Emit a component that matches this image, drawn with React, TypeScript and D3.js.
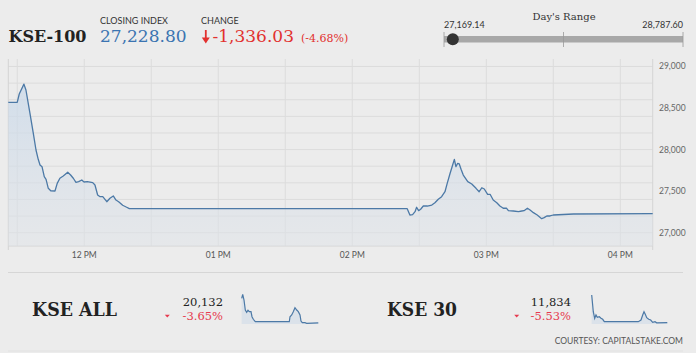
import React from "react";
import * as d3 from "d3";

// KSE-100 intraday (time, index)
const kseTimes = [
  "11:26:00", "11:30:00", "11:30:54", "11:33:00", "11:33:54", "11:35:42", "11:37:12", "11:38:24",
  "11:39:24", "11:40:12", "11:41:06", "11:42:06", "11:42:54", "11:43:54", "11:45:00", "11:46:54",
  "11:47:54", "11:49:06", "11:50:36", "11:52:36", "11:53:54", "11:55:06", "11:56:18", "11:57:30",
  "11:58:54", "11:59:54", "12:01:24", "12:03:48", "12:04:48", "12:06:00", "12:07:06", "12:08:18",
  "12:10:06", "12:11:30", "12:13:00", "12:14:12", "12:15:24", "12:17:12", "12:19:00", "12:20:12",
  "14:24:36", "14:25:48", "14:27:00", "14:28:06", "14:28:48", "14:29:42", "14:30:36", "14:31:48",
  "14:33:36", "14:35:36", "14:37:00", "14:38:30", "14:40:00", "14:41:30", "14:42:30", "14:43:48",
  "14:44:48", "14:45:42", "14:46:24", "14:47:12", "14:47:54", "14:48:42", "14:49:42", "14:51:42",
  "14:53:30", "14:55:24", "14:56:48", "14:58:00", "14:59:06", "15:00:36", "15:01:42", "15:03:06",
  "15:04:42", "15:06:06", "15:07:36", "15:09:06", "15:09:54", "15:12:06", "15:14:24", "15:15:54",
  "15:16:54", "15:18:24", "15:19:36", "15:21:06", "15:22:48", "15:24:48", "15:25:54", "15:27:06",
  "15:28:30", "15:30:00", "15:39:00", "16:14:30",
];
const kseValues = [
  28569, 28569, 28669, 28787.6, 28717, 28437, 28196, 27995,
  27883, 27815, 27794, 27674, 27642, 27534, 27505, 27502,
  27594, 27655, 27682, 27727, 27694, 27655, 27606, 27614,
  27634, 27610, 27614, 27602, 27574, 27454, 27433, 27433,
  27373, 27414, 27442, 27393, 27373, 27330, 27306, 27289,
  27289, 27213, 27217, 27253, 27306, 27265, 27282, 27321,
  27321, 27333, 27361, 27402, 27433, 27493, 27594, 27715,
  27803, 27883, 27794, 27835, 27827, 27763, 27694, 27614,
  27586, 27534, 27493, 27541, 27526, 27462, 27462, 27393,
  27361, 27321, 27294, 27294, 27265, 27261, 27253, 27261,
  27265, 27294, 27273, 27241, 27213, 27169.14, 27181, 27201,
  27201, 27213, 27225, 27228.8,
];

// KSE ALL sparkline
const allTimes = [
  "11:26:00", "11:29:48", "11:34:42", "11:39:36", "11:44:48", "11:49:42", "11:54:36", "12:01:00",
  "12:04:48", "12:09:42", "12:17:12", "14:25:18", "14:27:54", "14:34:18", "14:40:18", "14:46:42",
  "14:53:12", "14:59:12", "15:05:36", "15:09:18", "15:14:12", "15:24:24", "15:30:48", "16:14:30",
];
const allValues = [
  20820, 20932, 20772, 20492, 20428, 20484, 20444, 20444,
  20304, 20232, 20164, 20164, 20304, 20352, 20444, 20556,
  20492, 20444, 20352, 20184, 20136, 20136, 20120, 20132,
];

// KSE 30 sparkline
const k30Times = [
  "11:26:00", "11:32:06", "11:37:24", "11:42:24", "11:47:24", "11:55:00", "12:01:30", "12:08:00",
  "12:14:06", "14:23:48", "14:34:06", "14:40:36", "14:45:36", "14:50:30", "14:55:54", "15:03:30",
  "15:11:06", "15:18:48", "15:27:36", "15:34:00", "16:14:30",
];
const k30Values = [
  12554, 12120, 11948, 12034, 11974, 11990, 11948, 11922,
  11860, 11860, 11904, 12034, 12120, 12052, 11964, 11922,
  11904, 11844, 11860, 11830, 11834,
];

const gridValues = d3.range(27000, 29001, 200);
const yTickValues = [27000, 27500, 28000, 28500, 29000];

const closingIndex = 27228.8;
const changeValue = -1336.03;
const changePct = -4.68;
const dayLow = 27169.14;
const dayHigh = 28787.6;

const allClose = 20132;
const allPct = -3.65;
const k30Close = 11834;
const k30Pct = -5.53;

const parseTime = d3.timeParse("%H:%M:%S");
const fmt2 = (v: number) => d3.format(",.2f")(v).replace("\u2212", "-");
const fmt0 = d3.format(",.0f");
const serif = "'DejaVu Serif', serif";
const sans = "Lato, 'Noto Sans', sans-serif";
const lineColor = "#4c79a6";
const red = "#e2312f";
const pink = "#e63a4f";

type Pt = { t: Date; v: number };
const toPts = (ts: string[], vs: number[]): Pt[] =>
  ts.map((s, i) => ({ t: parseTime(s) as Date, v: vs[i] }));

function Spark({ pts, x0, x1, domain }: { pts: Pt[]; x0: number; x1: number; domain: [number, number] }) {
  const x = d3.scaleTime().domain(d3.extent(pts, (d) => d.t) as [Date, Date]).range([x0, x1]);
  const y = d3.scaleLinear().domain(domain).range([324, 294]);
  const line = d3.line<Pt>().x((d) => x(d.t)).y((d) => y(d.v));
  const area = d3.area<Pt>().x((d) => x(d.t)).y0(324).y1((d) => y(d.v));
  return (
    <g>
      <path d={area(pts) || ""} fill="#d7e0ea" opacity={0.8} />
      <path d={line(pts) || ""} fill="none" stroke={lineColor} strokeWidth={1.2} />
    </g>
  );
}

export default function App() {
  const W = 696;
  const H = 353;
  const pts = toPts(kseTimes, kseValues);
  const x = d3
    .scaleTime()
    .domain(d3.extent(pts, (d) => d.t) as [Date, Date])
    .range([8.3, 652.7]);
  const y = d3.scaleLinear().domain([26840, 29090]).range([246, 59]);
  const [t0, t1] = x.domain();
  const vGrid = d3.timeMinute.every(30)!.range(t0, t1);
  const xTicks = d3.timeHour.range(t0, t1);
  const line = d3.line<Pt>().x((d) => x(d.t)).y((d) => y(d.v));
  const area = d3.area<Pt>().x((d) => x(d.t)).y0(246).y1((d) => y(d.v));

  const range = d3.scaleLinear().domain([dayLow, dayHigh]).range([444, 683]);

  return (
    <svg width={W} height={H} style={{ position: "absolute", left: 0, top: 0 }}>
      <defs>
        <linearGradient id="fillGrad" x1="0" y1="0" x2="0" y2="1">
          <stop offset="0%" stopColor="#c9d9ea" stopOpacity={0.75} />
          <stop offset="100%" stopColor="#dfe3e8" stopOpacity={0.5} />
        </linearGradient>
      </defs>
      <rect width={W} height={H} fill="#ececec" />

      {/* header */}
      <text x={8.5} y={42.3} fontFamily={serif} fontWeight="bold" fontSize={16} fill="#222">KSE-100</text>
      <text x={100} y={24} fontFamily={sans} fontSize={9} fill="#333">CLOSING INDEX</text>
      <text x={100} y={42.3} fontFamily={serif} fontSize={17} fill="#3b74b1">{fmt2(closingIndex)}</text>
      <text x={201} y={24} fontFamily={sans} fontSize={9} fill="#333">CHANGE</text>
      <path d="M205.8,30 V40" stroke={red} strokeWidth={1.8} />
      <path d="M201.8,37.5 L209.8,37.5 L205.8,43.5 Z" fill={red} />
      <text x={212.5} y={42.3} fontFamily={serif} fontSize={17} fill={red}>{fmt2(changeValue)}</text>
      <text x={301} y={42.3} fontFamily={serif} fontSize={11} fill={red}>({changePct.toFixed(2)}%)</text>

      <text x={564} y={19.5} textAnchor="middle" fontFamily={serif} fontSize={10} fill="#333">Day's Range</text>
      <text x={444} y={28.3} fontFamily={sans} fontSize={9} fill="#333">{fmt2(dayLow)}</text>
      <text x={683} y={28.3} textAnchor="end" fontFamily={sans} fontSize={9} fill="#333">{fmt2(dayHigh)}</text>
      <rect x={range(dayLow)} y={36} width={range(dayHigh) - range(dayLow)} height={6.5} fill="#a8a8a8" />
      {[dayLow, (dayLow + dayHigh) / 2, dayHigh].map((v, i) => (
        <line key={i} x1={range(v)} x2={range(v)} y1={32} y2={47} stroke="#999" strokeWidth={0.8} />
      ))}
      <circle cx={range(closingIndex)} cy={39.2} r={6} fill="#333" />

      {/* main chart grid */}
      {gridValues.map((v) => (
        <line key={v} x1={8.3} x2={652.7} y1={y(v)} y2={y(v)} stroke="#dcdcdc" strokeWidth={1} />
      ))}
      {vGrid.map((t, i) => (
        <line key={i} x1={x(t)} x2={x(t)} y1={59} y2={246} stroke="#dcdcdc" strokeWidth={1} />
      ))}
      <line x1={8.3} x2={8.3} y1={59} y2={250} stroke="#d4d4d4" />
      <line x1={652.7} x2={652.7} y1={59} y2={250} stroke="#d4d4d4" />
      <line x1={8.3} x2={652.7} y1={246} y2={246} stroke="#d4d4d4" />

      <path d={area(pts) || ""} fill="url(#fillGrad)" />
      <path d={line(pts) || ""} fill="none" stroke={lineColor} strokeWidth={1.3} strokeLinejoin="round" />

      {yTickValues.map((v) => (
        <text key={v} x={659} y={y(v)} dy="0.35em" fontFamily={sans} fontSize={8.5} fill="#666">
          {fmt0(v)}
        </text>
      ))}
      {xTicks.map((t, i) => (
        <text key={i} x={x(t)} y={258} textAnchor="middle" fontFamily={sans} fontSize={8.5} fill="#555">
          {d3.timeFormat("%I %p")(t)}
        </text>
      ))}

      {/* bottom section */}
      <line x1={8} x2={683} y1={272.5} y2={272.5} stroke="#d6d6d6" />
      <line x1={8} x2={683} y1={351} y2={351} stroke="#e2e2e2" />

      <text x={32} y={315.7} fontFamily={serif} fontWeight="bold" fontSize={19} fill="#222"
        textLength={85} lengthAdjust="spacingAndGlyphs">KSE ALL</text>
      <text x={223} y={305.7} textAnchor="end" fontFamily={serif} fontSize={11.5} fill="#222">{fmt0(allClose)}</text>
      <text x={223} y={320} textAnchor="end" fontFamily={serif} fontSize={11.5} fill={pink}>{allPct.toFixed(2)}%</text>
      <path d="M164.8,314.8 L169.8,314.8 L167.3,317.5 Z" fill={pink} />
      <Spark pts={toPts(allTimes, allValues)} x0={241.7} x1={318.3} domain={[20100, 20940]} />

      <text x={387} y={315.7} fontFamily={serif} fontWeight="bold" fontSize={19} fill="#222"
        textLength={70} lengthAdjust="spacingAndGlyphs">KSE 30</text>
      <text x={571} y={305.7} textAnchor="end" fontFamily={serif} fontSize={11.5} fill="#222">{fmt0(k30Close)}</text>
      <text x={571} y={320} textAnchor="end" fontFamily={serif} fontSize={11.5} fill={pink}>{k30Pct.toFixed(2)}%</text>
      <path d="M514.2,314.8 L519.2,314.8 L516.7,317.5 Z" fill={pink} />
      <Spark pts={toPts(k30Times, k30Values)} x0={591.7} x1={667.3} domain={[11800, 12580]} />

      <text x={683} y={344} textAnchor="end" fontFamily={sans} fontSize={8.5} fill="#555">COURTESY: CAPITALSTAKE.COM</text>
    </svg>
  );
}
